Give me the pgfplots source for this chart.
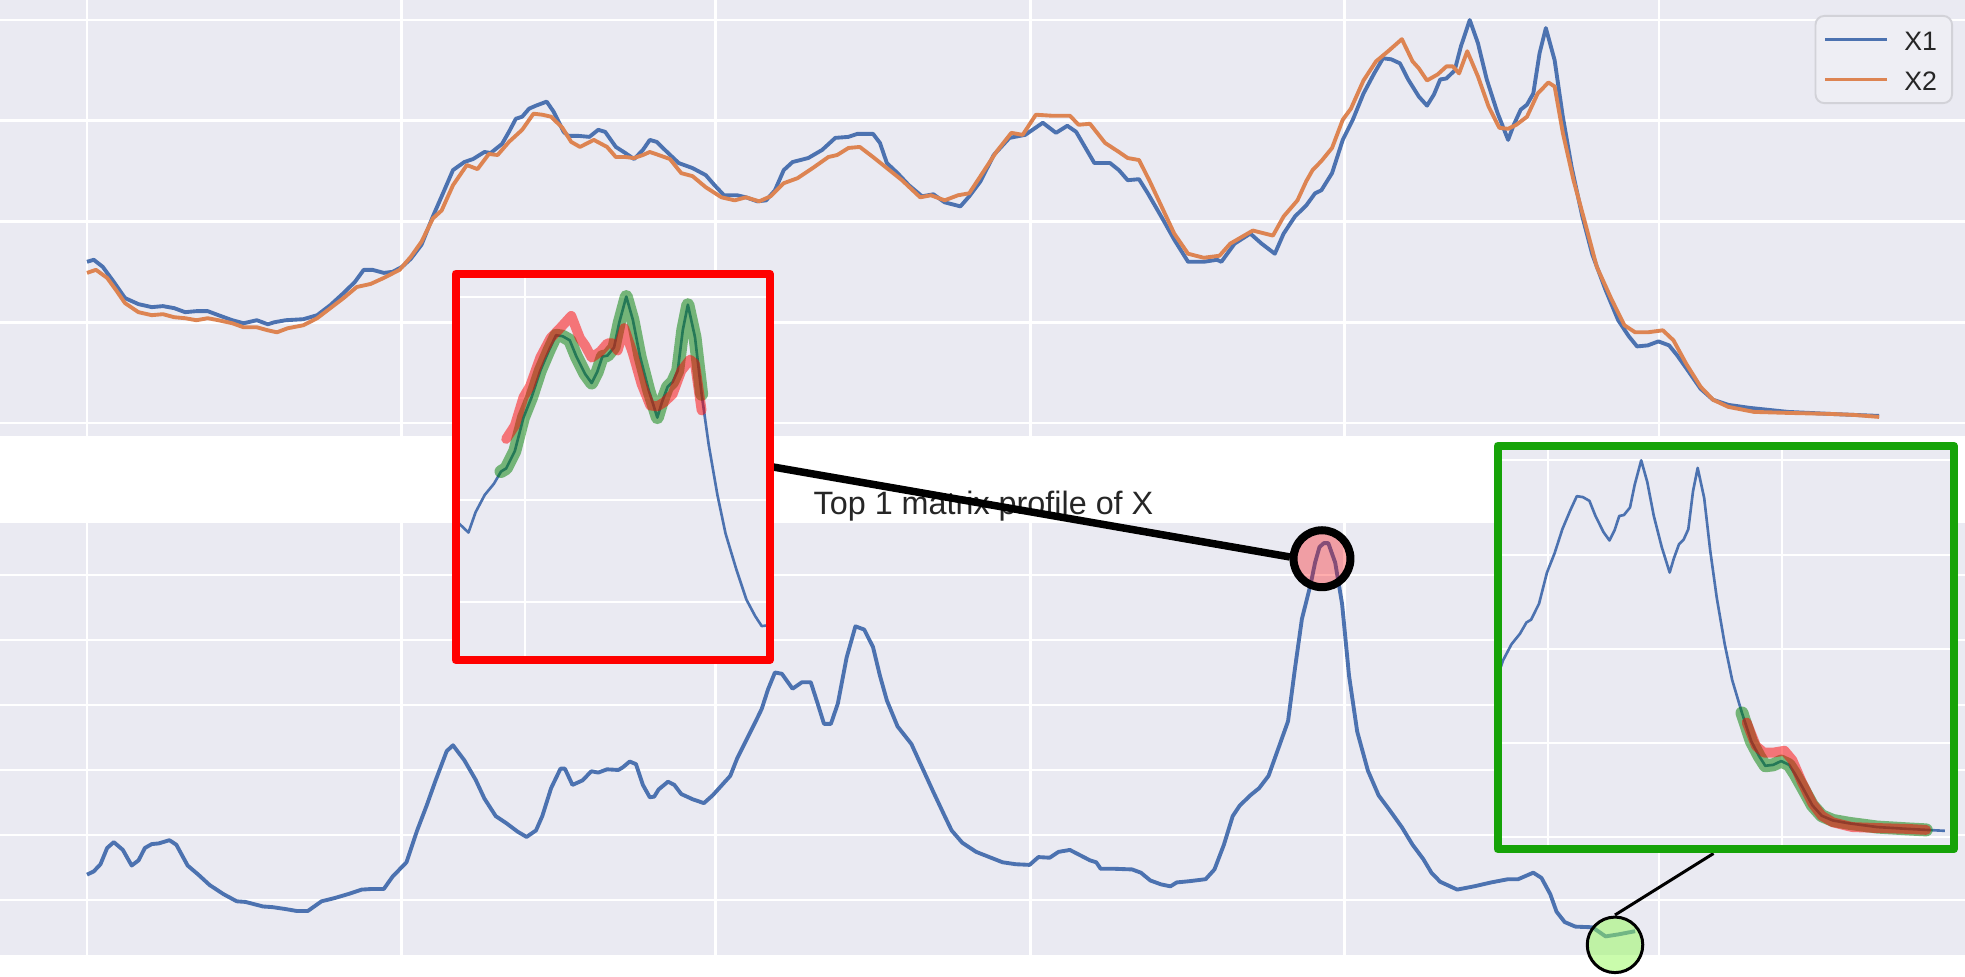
\documentclass[border=0pt]{standalone}
\usepackage{fontspec}
\setmainfont{Liberation Sans}
\usepackage{pgfplots}
\usepackage{pgfplotstable}
\pgfplotsset{compat=1.18}

\definecolor{sbgrey}{HTML}{EAEAF2}
\definecolor{sbblue}{HTML}{4C72B0}
\definecolor{sborange}{HTML}{DD8452}
\definecolor{boxgreen}{RGB}{22,163,8}
\definecolor{txtgrey}{HTML}{262626}
\definecolor{mint}{RGB}{150,250,90}
\definecolor{legendedge}{HTML}{D2D2D8}
\definecolor{legendfill}{HTML}{EEEEF4}

% X1 and X2 (top panel)
\pgfplotstableread{
i v
0 1.60
1.07 1.62
2.5 1.55
4.26 1.40
6.04 1.24
8.17 1.18
10.3 1.15
12.07 1.16
13.85 1.14
15.6 1.10
17.4 1.11
19.2 1.11
20.9 1.07
23.1 1.02
24.9 0.99
27.0 1.02
28.75 0.98
29.8 1.00
31.6 1.02
34.4 1.03
36.6 1.07
38.7 1.17
40.8 1.29
42.6 1.40
44.0 1.52
45.4 1.52
47.2 1.49
48.6 1.50
50.1 1.55
51.5 1.63
53.2 1.77
55.0 2.05
56.4 2.25
58.2 2.51
60.0 2.59
61.4 2.62
63.2 2.69
64.2 2.68
66.0 2.77
67.1 2.89
68.2 3.02
69.2 3.04
70.3 3.12
71.4 3.15
73.1 3.19
74.2 3.09
75.8 2.89
76.5 2.85
78.1 2.85
79.9 2.84
81.3 2.91
82.4 2.89
84.1 2.74
85.6 2.68
87.0 2.62
88.4 2.71
89.5 2.81
90.6 2.79
92.4 2.68
94.1 2.58
96.3 2.53
98.4 2.46
99.8 2.36
101.3 2.26
103.4 2.26
104.8 2.24
106.6 2.20
108.0 2.21
109.4 2.31
110.8 2.51
112.2 2.59
114.7 2.63
116.9 2.71
119.0 2.83
121.1 2.84
122.5 2.87
125.0 2.87
126.1 2.78
127.2 2.58
128.9 2.48
130.7 2.36
132.8 2.25
134.6 2.27
136.4 2.19
138.9 2.15
140.3 2.25
142.1 2.40
144.2 2.66
146.7 2.83
149.2 2.86
152.0 2.98
154.1 2.88
155.9 2.95
157.3 2.89
158.7 2.74
160.2 2.58
162.7 2.58
164.1 2.51
165.5 2.41
167.3 2.42
168.7 2.28
171.2 2.01
172.9 1.82
175.1 1.60
177.6 1.60
179.7 1.62
180.4 1.60
182.5 1.78
185.0 1.88
186.8 1.78
188.9 1.68
190.3 1.88
192.1 2.05
193.9 2.16
195.3 2.28
196.3 2.31
198.0 2.48
199.7 2.81
201.3 3.01
203.0 3.27
204.7 3.47
206.1 3.62
207.4 3.61
208.8 3.57
210.1 3.41
211.8 3.24
213.1 3.15
214.2 3.26
215.2 3.41
216.2 3.42
217.5 3.50
218.5 3.74
219.9 4.00
221.2 3.77
222.6 3.41
224.3 3.08
226.0 2.81
226.9 2.96
228.0 3.11
229.0 3.16
230.0 3.27
231.0 3.67
232.0 3.92
233.4 3.60
234.7 3.04
236.1 2.54
237.8 2.05
239.4 1.67
241.5 1.32
243.5 1.02
245.2 0.86
246.5 0.76
248.2 0.77
249.9 0.81
251.6 0.77
252.9 0.67
254.6 0.52
256.6 0.34
258.6 0.23
261.0 0.18
264.4 0.15
270.5 0.11
277.2 0.09
281.0 0.08
285.0 0.07
}\xone

\pgfplotstableread{
i v
0 1.49
1.43 1.52
3.2 1.44
4.6 1.32
6.04 1.19
8.17 1.10
10.3 1.07
12.07 1.08
13.85 1.05
15.6 1.04
17.4 1.02
19.2 1.04
20.9 1.02
23.1 0.99
24.9 0.95
27.0 0.95
28.75 0.92
30.2 0.90
31.9 0.94
34.4 0.97
36.6 1.04
38.7 1.14
40.8 1.24
42.9 1.35
45.1 1.38
47.2 1.44
49.7 1.52
51.5 1.65
53.2 1.80
55.0 2.03
56.4 2.11
58.2 2.36
60.4 2.56
62.1 2.52
63.9 2.67
65.3 2.66
67.1 2.79
69.2 2.91
71.0 3.07
72.4 3.06
73.8 3.04
75.6 2.93
77.0 2.79
78.4 2.74
80.6 2.81
82.7 2.74
84.1 2.64
85.6 2.64
87.0 2.63
88.4 2.66
89.5 2.69
90.9 2.66
92.7 2.62
94.5 2.48
96.3 2.45
98.4 2.34
100.9 2.24
103.0 2.21
104.8 2.24
106.9 2.20
108.7 2.25
110.8 2.38
113.0 2.43
115.4 2.53
117.9 2.64
119.3 2.66
121.1 2.73
122.9 2.74
125.0 2.64
127.2 2.53
129.6 2.41
132.5 2.24
134.2 2.26
136.4 2.21
138.5 2.26
140.3 2.28
142.4 2.48
144.6 2.69
147.0 2.88
148.8 2.86
150.9 3.06
153.4 3.05
156.3 3.05
157.7 2.96
159.5 2.97
161.9 2.78
164.1 2.69
165.5 2.63
167.3 2.61
169.0 2.40
170.8 2.16
172.9 1.88
175.1 1.68
177.6 1.64
180.1 1.66
181.8 1.78
185.4 1.91
188.6 1.86
190.3 2.05
192.5 2.21
193.9 2.40
194.9 2.51
196.3 2.60
198.0 2.73
199.7 3.01
201.0 3.12
203.0 3.40
205.0 3.59
207.1 3.70
209.1 3.81
210.8 3.59
211.8 3.52
213.1 3.40
214.8 3.46
216.2 3.54
217.2 3.54
218.2 3.47
219.5 3.69
221.2 3.44
222.9 3.14
224.6 2.93
226.0 2.92
227.3 2.96
229.0 3.04
230.7 3.27
232.4 3.38
233.4 3.34
234.7 2.88
236.4 2.41
238.1 2.02
240.1 1.55
242.5 1.22
244.5 0.97
246.2 0.90
248.2 0.90
250.6 0.92
252.3 0.82
254.3 0.59
256.6 0.36
258.6 0.23
261.0 0.16
265.1 0.11
270.5 0.10
277.2 0.09
281.0 0.08
285.0 0.06
}\xtwo

% matrix profile (bottom panel)
\pgfplotstableread{
i w
0 0.39
1.07 0.44
2.14 0.55
3.2 0.80
4.26 0.89
5.7 0.77
7.1 0.53
8.2 0.61
9.2 0.80
10.3 0.86
11.4 0.87
13.1 0.92
14.2 0.85
16.0 0.53
17.7 0.39
19.5 0.23
21.7 0.09
23.8 -0.02
25.2 -0.03
28.0 -0.10
29.5 -0.11
31.6 -0.14
33.4 -0.17
35.1 -0.17
37.3 -0.02
39.4 0.03
41.5 0.09
43.7 0.16
45.4 0.17
47.2 0.17
48.6 0.36
50.8 0.58
52.5 1.07
54.0 1.45
55.4 1.83
57.2 2.29
58.2 2.38
60.0 2.15
61.8 1.85
63.2 1.56
65.0 1.29
66.7 1.18
68.5 1.05
69.9 0.97
71.4 1.07
72.4 1.29
73.8 1.72
75.3 2.02
76.0 2.02
77.2 1.77
78.8 1.84
80.2 1.98
81.3 1.96
82.7 2.01
84.5 2.00
85.2 2.04
86.3 2.13
87.3 2.09
88.4 1.77
89.5 1.58
90.2 1.59
90.9 1.70
92.4 1.82
93.4 1.77
94.5 1.63
96.3 1.55
98.1 1.49
99.5 1.61
100.9 1.76
102.3 1.91
103.4 2.18
104.8 2.45
106.2 2.72
107.3 2.94
108.3 3.24
109.4 3.50
110.5 3.48
112.2 3.25
113.7 3.35
115.1 3.35
116.2 3.02
117.2 2.71
118.3 2.71
119.4 3.02
120.8 3.73
122.2 4.21
123.6 4.16
125.0 3.89
126.1 3.45
127.2 3.07
128.9 2.67
131.1 2.40
132.8 2.04
134.6 1.66
136.4 1.29
137.5 1.07
139.2 0.88
141.4 0.74
143.5 0.66
145.6 0.58
147.7 0.55
149.9 0.54
151.3 0.66
153.1 0.65
154.5 0.74
156.3 0.77
157.7 0.70
159.5 0.61
160.5 0.58
161.2 0.48
163.4 0.48
166.2 0.47
167.6 0.42
169.1 0.30
170.8 0.24
172.3 0.21
173.3 0.27
175.4 0.29
177.9 0.32
179.3 0.47
180.8 0.85
182.2 1.29
183.3 1.45
185.0 1.61
186.4 1.72
187.9 1.91
189.6 2.37
191.0 2.75
192.1 3.56
193.2 4.32
194.6 4.86
195.3 5.19
196.0 5.43
196.7 5.49
197.4 5.49
198.5 5.19
199.6 4.55
200.7 3.45
202.0 2.59
203.7 1.99
205.4 1.61
207.1 1.39
209.1 1.12
210.8 0.85
212.5 0.63
213.8 0.42
215.2 0.28
217.9 0.16
220.6 0.21
223.3 0.27
226.0 0.32
227.6 0.32
230.0 0.42
231.3 0.34
232.7 0.09
233.7 -0.18
235.0 -0.34
236.7 -0.41
239.4 -0.42
241.5 -0.56
243.5 -0.53
246.2 -0.48
}\mprofile

\pgfplotsset{
  sbaxis/.style={
    scale only axis,
    anchor=south west,
    axis background/.style={fill=sbgrey},
    axis line style={draw=none},
    major tick length=0pt,
    tick style={draw=none},
    xticklabel=\empty,
    yticklabel=\empty,
    xtick={0,50,...,300},
    grid=major,
    grid style={white, line width=0.8pt},
  },
  hl/.style={line width=#1, line cap=round, line join=round, opacity=0.5},
}

\begin{document}
\begin{tikzpicture}
\path[use as bounding box] (0,0) rectangle (19.65,9.77);

% top panel: X1, X2
\begin{axis}[sbaxis, at={(0cm,5.41cm)}, width=19.65cm, height=4.36cm,
    xmin=-13.84, xmax=298.66, ymin=-0.129, ymax=4.199, ytick={0,1,...,4},
    legend style={at={(0.9939,0.9656)}, anchor=north east,
        draw=legendedge, fill=legendfill, rounded corners=2.5pt, line width=0.55pt,
        font=\fontsize{7.6pt}{9pt}\selectfont, text=txtgrey,
        inner xsep=0.08cm, inner ysep=0.1cm, row sep=0.13cm, column sep=0.08cm,
        nodes={inner xsep=0.07cm, inner ysep=0.03cm, text height=6pt, text depth=0pt}},
    legend cell align=left,
    legend image code/.code={\draw[#1, line width=1.1pt] (0cm,0cm) -- (0.62cm,0cm);},
]
\addplot[sbblue, line width=1.1pt, line join=round] table[x=i,y=v]{\xone};
\addlegendentry{X1}
\addplot[sborange, line width=1.1pt, line join=round] table[x=i,y=v]{\xtwo};
\addlegendentry{X2}
\end{axis}

% bottom panel: matrix profile
\begin{axis}[sbaxis, at={(0cm,0.22cm)}, width=19.65cm, height=4.32cm,
    xmin=-13.84, xmax=298.66, ymin=-0.846, ymax=5.80, ytick={0,1,...,5}, clip=false]
\addplot[sbblue, line width=1.1pt, line join=round] table[x=i,y=w]{\mprofile};
\addplot[only marks, mark=*, mark size=8.1pt,
    mark options={draw=black, line width=2.28pt, fill=red, fill opacity=0.32}]
    coordinates {(196.4,5.25)};
\addplot[only marks, mark=*, mark size=7.9pt,
    mark options={draw=black, line width=0.85pt, fill=mint, fill opacity=0.5}]
    coordinates {(243.0,-0.69)};
\end{axis}

\node[anchor=base, text=txtgrey, font=\fontsize{9.2pt}{11pt}\selectfont]
    at (9.835,4.62) {Top 1 matrix profile of X};

% connectors
\draw[black, line width=0.075cm] (7.73,5.10) -- (12.90,4.20);
\draw[black, line width=0.03cm] (16.15,0.62) -- (17.135,1.235);

% red inset (discord)
\begin{axis}[sbaxis, at={(4.593cm,3.21cm)}, width=3.067cm, height=3.777cm,
    xmin=187.1, xmax=247.35, ymin=0.466, ymax=4.18, ytick={0,1,...,4},
    grid style={white, line width=0.6pt}]
\addplot[sbblue, line width=0.75pt, line join=round] table[x=i,y=v]{\xone};
\addplot[green!50!black, hl=3.7pt, restrict x to domain=195:235] table[x=i,y=v]{\xone};
\addplot[red, hl=2.8pt, restrict x to domain=195:235] table[x=i,y=v]{\xtwo};
\end{axis}
\draw[red, line width=0.08cm, line join=round] (4.555,3.17) rectangle (7.70,7.032);

% green inset (motif)
\begin{axis}[sbaxis, at={(15.017cm,1.32cm)}, width=4.483cm, height=3.95cm,
    xmin=190.0, xmax=286.1, ymin=-0.08, ymax=4.11, ytick={0,1,...,4},
    grid style={white, line width=0.6pt}]
\addplot[sbblue, line width=0.75pt, line join=round] table[x=i,y=v]{\xone};
\addplot[green!50!black, hl=3.7pt, restrict x to domain=240.5:281.5] table[x=i,y=v]{\xone};
\addplot[red, hl=2.8pt, restrict x to domain=240.5:281.5] table[x=i,y=v]{\xtwo};
\end{axis}
\draw[boxgreen, line width=0.08cm, line join=round] (14.975,1.278) rectangle (19.54,5.312);

\end{tikzpicture}
\end{document}
